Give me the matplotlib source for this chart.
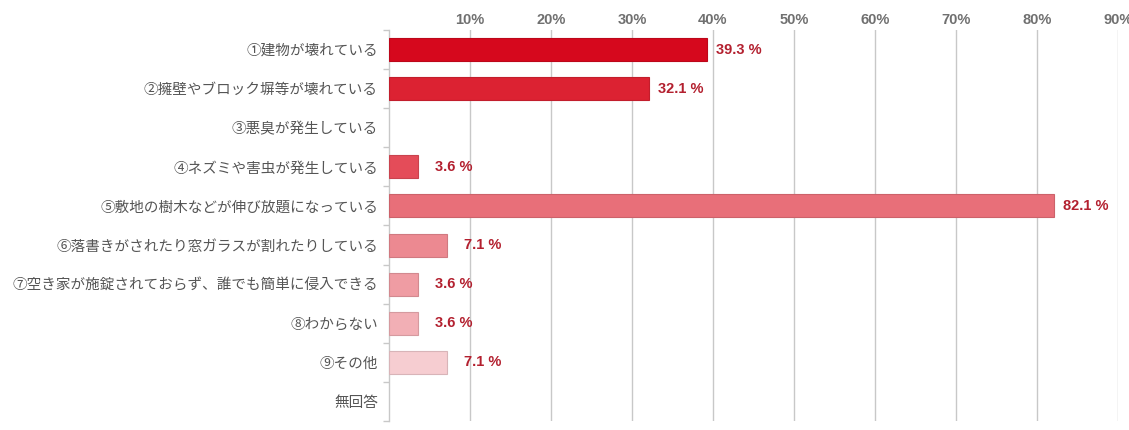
import matplotlib
matplotlib.use("Agg")
import matplotlib.pyplot as plt
from matplotlib.ticker import FixedLocator
from matplotlib.colors import to_rgb

plt.rcParams['font.family'] = ['Noto Sans CJK JP', 'DejaVu Sans']

categories = [
    "①建物が壊れている",
    "②擁壁やブロック塀等が壊れている",
    "③悪臭が発生している",
    "④ネズミや害虫が発生している",
    "⑤敷地の樹木などが伸び放題になっている",
    "⑥落書きがされたり窓ガラスが割れたりしている",
    "⑦空き家が施錠されておらず、誰でも簡単に侵入できる",
    "⑧わからない",
    "⑨その他",
    "無回答",
]
values = [39.3, 32.1, 0.0, 3.6, 82.1, 7.1, 3.6, 3.6, 7.1, 0.0]
bar_colors = ["#d6081d", "#dc2232", "#e34352", "#e44c59", "#e86f79",
              "#ec8991", "#ef9ca3", "#f2afb5", "#f6cdd1", "#f9e0e2"]
x_ticks = [10, 20, 30, 40, 50, 60, 70, 80, 90]
x_tick_labels = [f"{t}%" for t in x_ticks]

W, H = 1129, 430
fig = plt.figure(figsize=(W / 100, H / 100), dpi=100)
ax = fig.add_axes([389 / W, 1 - 421 / H, (1118 - 389) / W, (421 - 30) / H])


def darker(c, f=0.88):
    r, g, b = to_rgb(c)
    return (r * f, g * f, b * f)


y = list(range(len(categories)))
edge = [darker(c) if v > 0 else "none" for c, v in zip(bar_colors, values)]
ax.barh(y, values, height=0.59, color=bar_colors, edgecolor=edge,
        linewidth=0.8, zorder=3)

for yi, v in zip(y, values):
    if v <= 0:
        continue
    off = 9 if v >= 20 else 17
    ax.annotate(f"{v:.1f} %", xy=(v, yi), xytext=(off * 0.72, 0),
                textcoords="offset points", va="center", ha="left",
                fontsize=10.5, fontweight="bold", color="#b3202f",
                family=["Liberation Sans", "DejaVu Sans"], zorder=4)

ax.set_xlim(0, 90)
ax.set_ylim(len(categories) - 0.5, -0.5)

ax.xaxis.tick_top()
ax.set_xticks(x_ticks)
ax.set_xticklabels(x_tick_labels, fontsize=10.5, fontweight="bold",
                   color="#707070", family=["Liberation Sans", "DejaVu Sans"])
ax.tick_params(axis="x", length=0, pad=2)
ax.grid(axis="x", color="#c8c8c8", linewidth=1.0, zorder=0)

ax.set_yticks(y)
ax.set_yticklabels(categories, fontsize=10.5, color="#555555")
ax.tick_params(axis="y", which="major", length=0, pad=8)
ax.yaxis.set_minor_locator(FixedLocator([i - 0.5 for i in range(len(categories) + 1)]))
ax.tick_params(axis="y", which="minor", length=4, color="#c8c8c8", width=1)

for s in ("top", "right", "bottom"):
    ax.spines[s].set_visible(False)
ax.spines["left"].set_color("#c8c8c8")
ax.spines["left"].set_linewidth(1)

fig.savefig("out.png", dpi=100, facecolor="white")
